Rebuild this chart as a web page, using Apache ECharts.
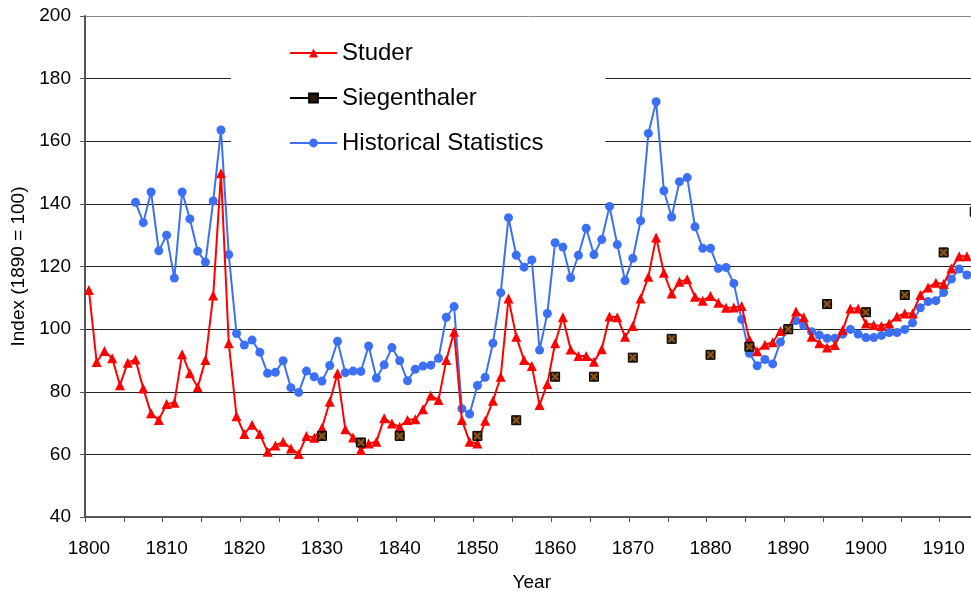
<!DOCTYPE html>
<html>
<head>
<meta charset="utf-8">
<script src="https://cdn.jsdelivr.net/npm/echarts@6/dist/echarts.min.js"></script>
<style>
html,body{margin:0;padding:0;background:#fff;}
#chart{width:971px;height:591px;}
</style>
</head>
<body>
<div id="chart"></div>
<script>
// Category years (1800 .. 1914)
const firstYear = 1800;
const lastYear = 1914;

// Studer series, one value per year starting 1800
const studerValues = [
  112.5, 89.5, 93, 90.7, 82.1, 89.3, 90.3, 81, 73.1, 71,
  76.1, 76.5, 92, 85.9, 81.4, 90.1, 110.7, 149.8, 95.5, 72.2,
  66.5, 69.5, 66.5, 60.8, 62.8, 64, 61.9, 60.1, 65.9, 65.3,
  68.5, 76.8, 85.9, 68, 65.4, 61.4, 63.5, 64, 71.5, 69.9,
  68.8, 71, 71.2, 74.4, 78.8, 77.4, 90.1, 99.2, 71, 64,
  63.5, 70.7, 77.1, 84.8, 109.8, 97.6, 90.1, 88.2, 75.8, 82.5,
  95.5, 103.8, 93.5, 91.4, 91.4, 89.6, 93.6, 104, 103.8, 97.6,
  101, 109.8, 116.7, 129.3, 118, 111.4, 115.1, 115.9, 110.3, 109.1,
  110.6, 108.4, 106.8, 106.9, 107.4, 96.7, 92.9, 95, 95.8, 99.4,
  100, 105.6, 103.8, 97.6, 95.5, 94.1, 94.9, 99.7, 106.6, 106.6,
  101.8, 101.3, 101, 101.8, 104, 105, 105, 110.9, 113.3, 114.8,
  114.4, 119.4, 123.3, 123.3
];

// Historical Statistics series, one value per year starting 1806
const histStart = 1806;
const histValues = [
  140.5, 134, 143.8, 125,
  130, 116.3, 143.8, 135.2, 124.9, 121.4, 140.9, 163.6, 123.8, 98.6,
  94.9, 96.5, 92.6, 85.9, 86.2, 89.9, 81.3, 79.8, 86.6, 84.8,
  83.4, 88.4, 96.1, 86.1, 86.6, 86.5, 94.6, 84.4, 88.6, 94.1,
  89.9, 83.5, 87.2, 88.2, 88.5, 90.7, 103.8, 107.2, 74.6, 72.9,
  82, 84.6, 95.5, 111.6, 135.6, 123.6, 119.8, 122.1, 93.3, 105,
  127.6, 126.2, 116.4, 123.6, 132.2, 123.8, 128.6, 139.2, 127, 115.5,
  122.6, 134.6, 162.5, 172.6, 144.2, 135.8, 147.1, 148.4, 132.7, 125.8,
  125.8, 119.4, 119.7, 114.6, 103.1, 92.3, 88.3, 90.3, 88.9, 95.9,
  100, 102.7, 101.1, 99.2, 98.1, 97.1, 97.1, 98.4, 99.9, 98.4,
  97.3, 97.3, 98, 98.9, 98.9, 99.9, 102, 106.8, 108.8, 109.1,
  111.7, 116, 119.2, 117.3
];

// Siegenthaler series: years and values
const siegYears  = [1830, 1835, 1840, 1850, 1855, 1860, 1865, 1870, 1875, 1880, 1885, 1890, 1895, 1900, 1905, 1910, 1914];
const siegValues = [65.9, 63.8, 65.9, 65.9, 70.9, 84.8, 84.8, 90.9, 96.9, 91.8, 94.4, 100, 108, 105.4, 110.9, 124.5, 137.5];

// Y axis ticks
const yMin = 40, yMax = 200, yStep = 20;

// ---- build ----
const years = [];
for (let y = firstYear; y <= lastYear; y++) years.push(String(y));

const studerData = years.map((_, i) => i < studerValues.length ? studerValues[i] : null);
const histData = years.map((y) => {
  const k = Number(y) - histStart;
  return (k >= 0 && k < histValues.length) ? histValues[k] : null;
});
const siegData = years.map(() => null);
siegYears.forEach((y, i) => { siegData[y - firstYear] = siegValues[i]; });

const FONT = '"Liberation Sans", Arial, sans-serif';
const xPath = 'path://M0,0 L2.2,0 L5,2.8 L7.8,0 L10,0 L10,2.2 L7.2,5 L10,7.8 L10,10 L7.8,10 L5,7.2 L2.2,10 L0,10 L0,7.8 L2.8,5 L0,2.2 Z';

const chart = echarts.init(document.getElementById('chart'), null, {renderer: 'canvas'});
chart.setOption({
  animation: false,
  backgroundColor: '#fff',
  textStyle: {fontFamily: FONT},
  grid: {left: 85, top: 16, bottom: 74, right: -7.6, containLabel: false, outerBoundsMode: 'none'},
  legend: {
    orient: 'vertical',
    left: 231,
    top: 25,
    padding: [16, 62, 16, 58],
    backgroundColor: '#fff',
    itemWidth: 47,
    itemHeight: 11,
    itemGap: 21,
    textStyle: {fontFamily: FONT, fontSize: 24, color: '#000', lineHeight: 24},
    data: [
      {name: 'Studer'},
      {name: 'Siegenthaler', lineStyle: {color: '#000', width: 2, opacity: 1, type: 'solid'}},
      {name: 'Historical Statistics'}
    ],
    z: 10
  },
  xAxis: {
    type: 'category',
    data: years,
    boundaryGap: true,
    name: 'Year',
    nameLocation: 'middle',
    nameGap: 56,
    nameTextStyle: {fontFamily: FONT, fontSize: 19, color: '#000'},
    axisLine: {lineStyle: {color: '#555', width: 2}},
    axisTick: {show: true, interval: 4, length: 5, lineStyle: {color: '#555', width: 1}},
    axisLabel: {interval: 9, margin: 22, fontSize: 19, color: '#000', fontFamily: FONT},
    splitLine: {show: false}
  },
  yAxis: {
    type: 'value',
    min: yMin, max: yMax, interval: yStep,
    name: 'Index (1890 = 100)',
    nameLocation: 'middle',
    nameGap: 50,
    nameRotate: 90,
    nameTextStyle: {fontFamily: FONT, fontSize: 19, color: '#000'},
    axisLine: {show: true, lineStyle: {color: '#555', width: 2}},
    axisTick: {show: true, length: 5, lineStyle: {color: '#555'}},
    axisLabel: {margin: 14, fontSize: 19, color: '#000', fontFamily: FONT},
    splitLine: {show: true, lineStyle: {color: ['#222','#222','#222','#222','#222','#222','#222','#222','#888'], width: 1}}
  },
  series: [
    {
      name: 'Studer',
      type: 'line',
      data: studerData,
      symbol: 'triangle',
      symbolSize: 10,
      showAllSymbol: true,
      color: '#ff0000',
      lineStyle: {color: '#ff0000', width: 2},
      itemStyle: {color: '#ff0000'},
      z: 3
    },
    {
      name: 'Siegenthaler',
      type: 'line',
      data: siegData,
      connectNulls: false,
      symbol: 'rect',
      symbolSize: 9,
      showAllSymbol: true,
      color: '#7a4a14',
      lineStyle: {width: 0, opacity: 0, color: '#000'},
      itemStyle: {color: '#2a1a06', borderColor: '#000', borderWidth: 1},
      z: 4
    },
    {
      name: 'SiegX',
      type: 'line',
      data: siegData,
      symbol: xPath,
      symbolSize: 7,
      showAllSymbol: true,
      lineStyle: {width: 0, opacity: 0},
      itemStyle: {color: '#8a5518', borderWidth: 0},
      silent: true,
      z: 5
    },
    {
      name: 'Historical Statistics',
      type: 'line',
      data: histData,
      symbol: 'circle',
      symbolSize: 9,
      showAllSymbol: true,
      color: '#3b6ff5',
      lineStyle: {color: '#3b6ff5', width: 2},
      itemStyle: {color: '#3b6ff5'},
      z: 2
    }
  ]
});
</script>
</body>
</html>
